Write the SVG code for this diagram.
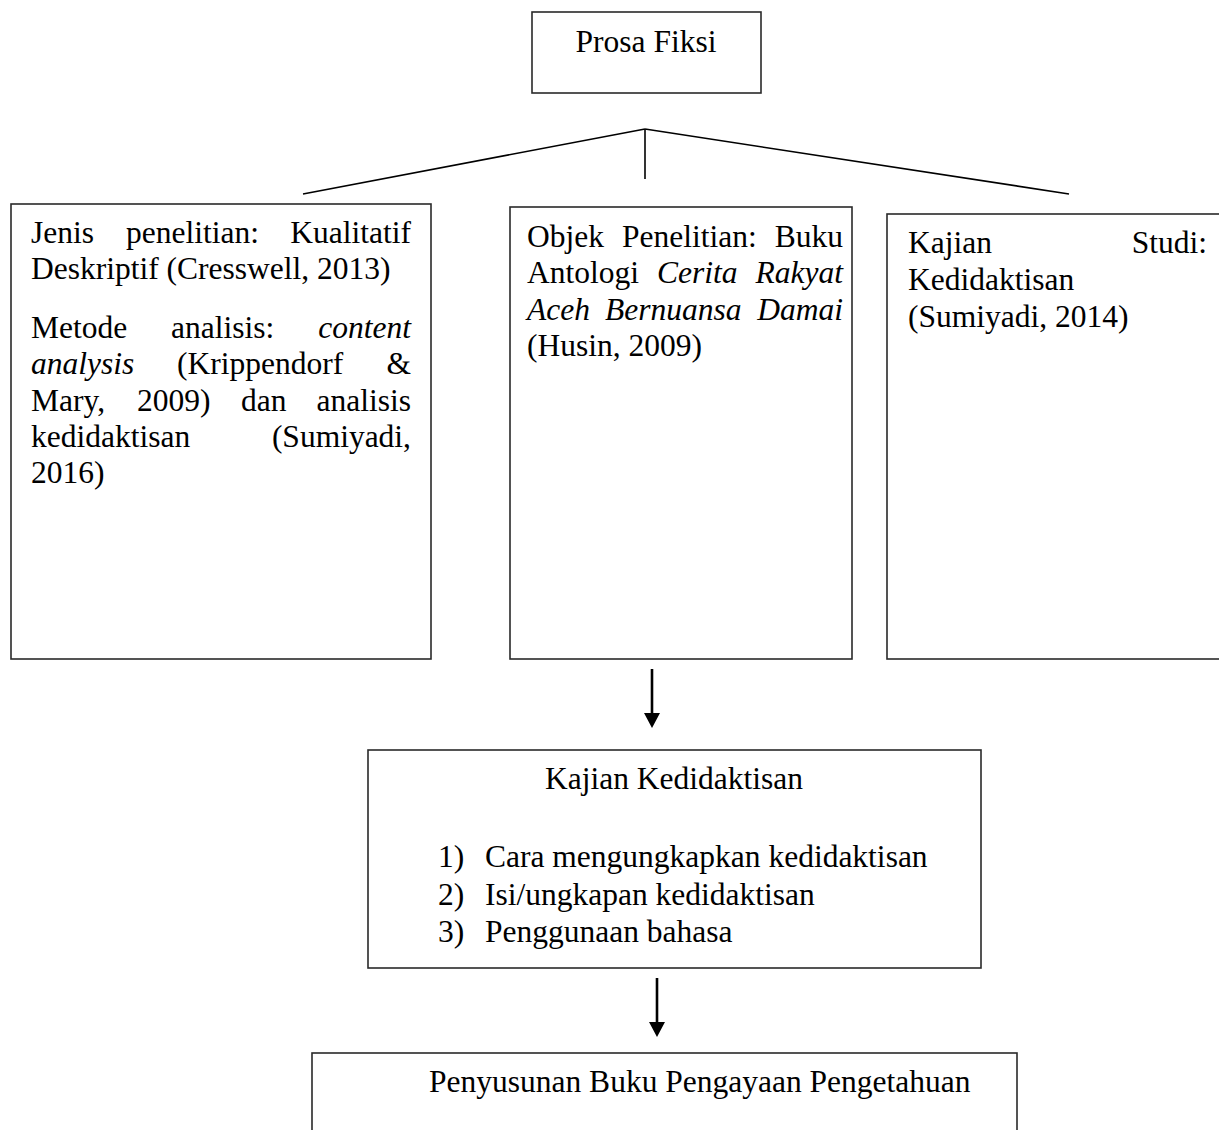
<svg xmlns="http://www.w3.org/2000/svg" width="1219" height="1130" viewBox="0 0 1219 1130">
<style>
  .box { fill: #ffffff; stroke: #2a2a2a; stroke-width: 1.6; }
  .t { font-family: "Liberation Serif", "Times New Roman", serif; font-size: 31.5px; fill: #000; }
  .i { font-style: italic; }
  .end { text-anchor: end; }
  .mid { text-anchor: middle; }
  .con { stroke: #000; stroke-width: 1.6; fill: none; }
  .arr { stroke: #000; stroke-width: 2.6; fill: none; }
</style>
<defs>
  <marker id="ah" markerUnits="userSpaceOnUse" markerWidth="16" markerHeight="16" viewBox="0 0 15 16" refX="0" refY="8" orient="auto">
    <path d="M0,0 L15,8 L0,16 z" fill="#000"/>
  </marker>
</defs>
<rect width="1219" height="1130" fill="#ffffff"/>

<g id="connectors">
  <line class="con" x1="645" y1="129" x2="303" y2="194"/>
  <line class="con" x1="645" y1="129" x2="1069" y2="194"/>
  <line class="con" x1="645" y1="129" x2="645" y2="179"/>
  <line class="arr" x1="652" y1="669" x2="652" y2="713" marker-end="url(#ah)"/>
  <line class="arr" x1="657" y1="978" x2="657" y2="1022" marker-end="url(#ah)"/>
</g>

<g id="prosa-fiksi">
  <rect class="box" x="532" y="12" width="229" height="81"/>
  <text class="t mid" x="646" y="52">Prosa Fiksi</text>
</g>

<g id="jenis-penelitian">
  <rect class="box" x="11" y="204" width="420" height="455"/>
  <text class="t" x="31" y="243">Jenis</text>
  <text class="t" x="126" y="243">penelitian:</text>
  <text class="t end" x="411" y="243">Kualitatif</text>
  <text class="t" x="31" y="279">Deskriptif (Cresswell, 2013)</text>
  <text class="t" x="31" y="338">Metode</text>
  <text class="t" x="171" y="338">analisis:</text>
  <text class="t i end" x="411" y="338">content</text>
  <text class="t i" x="31" y="374">analysis</text>
  <text class="t" x="177" y="374">(Krippendorf</text>
  <text class="t end" x="411" y="374">&amp;</text>
  <text class="t" x="31" y="411">Mary,</text>
  <text class="t" x="137" y="411">2009)</text>
  <text class="t" x="241" y="411">dan</text>
  <text class="t end" x="411" y="411">analisis</text>
  <text class="t" x="31" y="447">kedidaktisan</text>
  <text class="t end" x="411" y="447">(Sumiyadi,</text>
  <text class="t" x="31" y="483">2016)</text>
</g>

<g id="objek-penelitian">
  <rect class="box" x="510" y="207" width="342" height="452"/>
  <text class="t" x="527" y="247">Objek</text>
  <text class="t" x="622" y="247">Penelitian:</text>
  <text class="t end" x="843" y="247">Buku</text>
  <text class="t" x="527" y="283">Antologi</text>
  <text class="t i" x="657" y="283">Cerita</text>
  <text class="t i end" x="843" y="283">Rakyat</text>
  <text class="t i" x="527" y="320">Aceh</text>
  <text class="t i" x="605" y="320">Bernuansa</text>
  <text class="t i end" x="843" y="320">Damai</text>
  <text class="t" x="527" y="356">(Husin, 2009)</text>
</g>

<g id="kajian-studi">
  <rect class="box" x="887" y="214" width="400" height="445"/>
  <text class="t" x="908" y="253">Kajian</text>
  <text class="t end" x="1207" y="253">Studi:</text>
  <text class="t" x="908" y="290">Kedidaktisan</text>
  <text class="t" x="908" y="327">(Sumiyadi, 2014)</text>
</g>

<g id="kajian-kedidaktisan">
  <rect class="box" x="368" y="750" width="613" height="218"/>
  <text class="t mid" x="674" y="789">Kajian Kedidaktisan</text>
  <text class="t" x="438" y="867">1)</text>
  <text class="t" x="485" y="867">Cara mengungkapkan kedidaktisan</text>
  <text class="t" x="438" y="905">2)</text>
  <text class="t" x="485" y="905">Isi/ungkapan kedidaktisan</text>
  <text class="t" x="438" y="942">3)</text>
  <text class="t" x="485" y="942">Penggunaan bahasa</text>
</g>

<g id="penyusunan-buku">
  <rect class="box" x="312" y="1053" width="705" height="120"/>
  <text class="t" x="429" y="1092">Penyusunan Buku Pengayaan Pengetahuan</text>
</g>
</svg>
